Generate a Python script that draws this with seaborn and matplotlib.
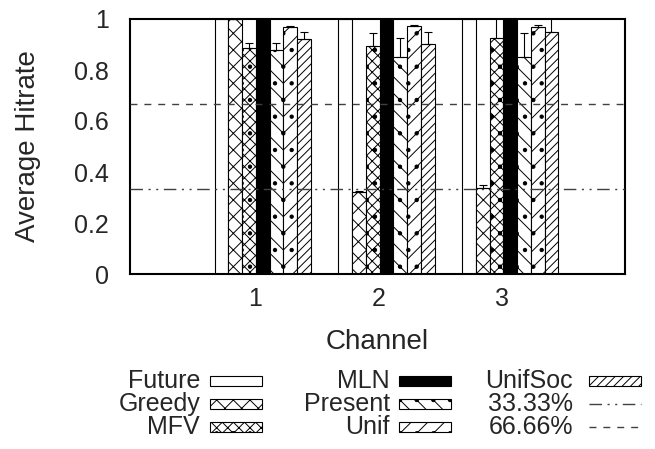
import matplotlib
matplotlib.use('Agg')
import matplotlib.pyplot as plt
import matplotlib.patches as mpatches
import matplotlib.lines as mlines
from matplotlib.transforms import ScaledTranslation
import numpy as np
import pandas as pd
import seaborn as sns

# data
channels = [1, 2, 3]
methods = ['Future', 'Greedy', 'MFV', 'MLN', 'Present', 'Unif', 'UnifSoc']
future = [1.0, 1.0, 1.0]
greedy = [1.0, 0.321, 0.337]
mfv = [0.885, 0.894, 0.927]
mln = [1.0, 1.0, 1.0]
present = [0.878, 0.852, 0.852]
unif = [0.970, 0.973, 0.970]
unifsoc = [0.920, 0.902, 0.950]

greedy_err = [0.0, 0.006, 0.013]
mfv_err = [0.020, 0.052, 0.080]
present_err = [0.027, 0.075, 0.092]
unif_err = [0.004, 0.003, 0.006]
unifsoc_err = [0.030, 0.048, 0.060]
future_err = [0.0, 0.0, 0.0]
mln_err = [0.0, 0.0, 0.0]

ref_levels = [1 / 3, 2 / 3]
ref_labels = ['33.33%', '66.66%']
yticks = [0, 0.2, 0.4, 0.6, 0.8, 1]
ytick_labels = ['0', '0.2', '0.4', '0.6', '0.8', '1']

values = [future, greedy, mfv, mln, present, unif, unifsoc]
errors = [future_err, greedy_err, mfv_err, mln_err, present_err, unif_err, unifsoc_err]

df = pd.DataFrame({
    'channel': np.repeat([channels], len(methods), axis=0).ravel(),
    'method': np.repeat(methods, len(channels)),
    'value': np.concatenate(values),
})

colors = ['white', 'white', 'white', 'black', 'white', 'white', 'white']
hatches = ['', 'xx', 'xxx.', '', '\\\\.', '//.', '////']

sns.set_theme(style='white')
plt.rcParams['font.family'] = ['Liberation Sans', 'DejaVu Sans']
plt.rcParams['hatch.linewidth'] = 0.7

W, H = 655, 449
fig = plt.figure(figsize=(W / 100, H / 100), dpi=100)
ax = fig.add_axes([130 / W, 1 - 274 / H, (625 - 130) / W, (274 - 19) / H])

sns.barplot(data=df, x='channel', y='value', hue='method', hue_order=methods,
            palette=colors, native_scale=True, width=7 / 9, gap=0,
            edgecolor='black', linewidth=0.8, saturation=1, errorbar=None,
            legend=False, ax=ax, zorder=2)

for cont, h, err in zip(ax.containers, hatches, errors):
    xs, ys = [], []
    for bar in cont:
        bar.set_hatch(h)
        xs.append(bar.get_x() + bar.get_width() / 2)
        ys.append(bar.get_height())
    if any(e > 0 for e in err):
        ax.errorbar(xs, ys, yerr=[np.zeros(len(err)), err], fmt='none',
                    ecolor='black', elinewidth=0.8, capsize=3, capthick=0.8,
                    zorder=3)

line_styles = [(0, (9, 4, 1.5, 4, 1.5, 4)), (0, (5, 5))]
for lvl, ls in zip(ref_levels, line_styles):
    ax.axhline(lvl, color='#404040', lw=1, ls=ls, zorder=4)

ax.set_xlim(-0.072, 3.928)
ax.set_ylim(0, 1)
ax.set_xticks(channels)
ax.set_xticklabels([str(c) for c in channels])
ax.set_yticks(yticks)
ax.set_yticklabels(ytick_labels)
ax.tick_params(axis='both', length=0, labelsize=18)
ax.tick_params(axis='y', pad=15)
ax.tick_params(axis='x', pad=9)
for lbl in ax.get_xticklabels():
    lbl.set_transform(lbl.get_transform() + ScaledTranslation(-0.08, 0, fig.dpi_scale_trans))
ax.set_xlabel('Channel', fontsize=20, labelpad=13)
ax.set_ylabel('Average Hitrate', fontsize=20, labelpad=24)
for sp in ax.spines.values():
    sp.set_color('black')
    sp.set_linewidth(1.5)

# legend, gnuplot style: label right-aligned, sample to the right
legend_cols = [
    (200, 210, methods[0:3], colors[0:3], hatches[0:3]),
    (390, 399, methods[3:6], colors[3:6], hatches[3:6]),
]
row_y = [381, 404, 427]
for text_x, box_x, labs, cols, hts in legend_cols:
    for y, lab, c, h in zip(row_y, labs, cols, hts):
        fig.text(text_x / W, 1 - y / H, lab, ha='right', va='center', fontsize=18)
        fig.add_artist(mpatches.Rectangle((box_x / W, 1 - (y + 5) / H), 52 / W, 10 / H,
                                          transform=fig.transFigure, facecolor=c,
                                          edgecolor='black', hatch=h, lw=0.8))

fig.text(573 / W, 1 - row_y[0] / H, methods[6], ha='right', va='center', fontsize=18)
fig.add_artist(mpatches.Rectangle((589 / W, 1 - (row_y[0] + 5) / H), 52 / W, 10 / H,
                                  transform=fig.transFigure, facecolor=colors[6],
                                  edgecolor='black', hatch=hatches[6], lw=0.8))
for y, lab, ls in zip(row_y[1:], ref_labels, line_styles):
    fig.text(573 / W, 1 - y / H, lab, ha='right', va='center', fontsize=18)
    fig.add_artist(mlines.Line2D([589 / W, 641 / W], [1 - y / H] * 2,
                                transform=fig.transFigure, color='#404040', lw=1, ls=ls))

fig.savefig('out.png', dpi=100)
